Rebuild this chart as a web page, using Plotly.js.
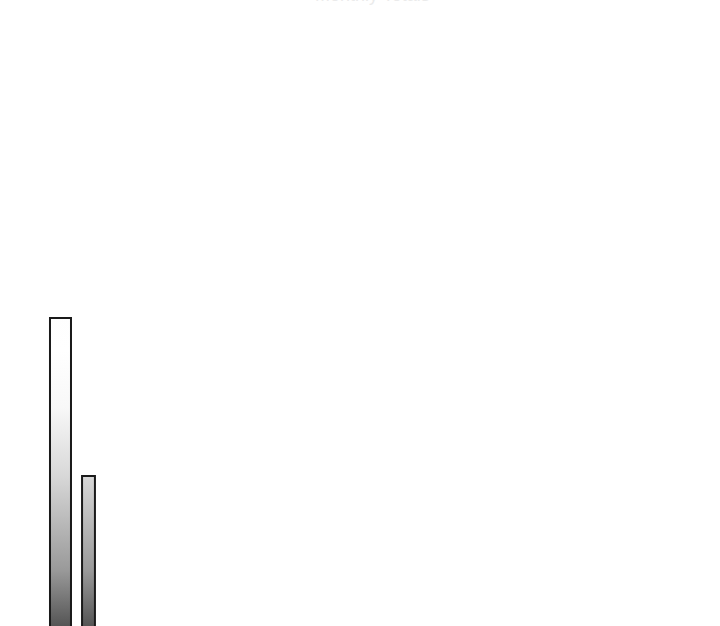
<!DOCTYPE html>
<html>
<head>
<meta charset="utf-8">
<script src="https://cdn.plot.ly/plotly-3.0.1.min.js"></script>
<style>
  html, body { margin: 0; padding: 0; background: #ffffff; overflow: hidden; }
  #chart { width: 720px; height: 626px; }
</style>
</head>
<body>
<div id="chart"></div>
<script>
// Data
const categories = ["A", "B"];
const values = [104.4, 53.9];
const barWidths = [0.75, 0.46];
const titleText = "Monthly Totals";

const trace = {
  type: "bar",
  x: categories,
  y: values,
  width: barWidths,
  marker: {
    color: "#bbbbbb",
    line: { color: "#1a1a1a", width: 2 }
  },
  hoverinfo: "none"
};

const layout = {
  width: 720,
  height: 626,
  margin: { l: 0, r: 0, t: 0, b: 0 },
  paper_bgcolor: "#ffffff",
  plot_bgcolor: "#ffffff",
  showlegend: false,
  xaxis: {
    type: "category",
    range: [-2.16, 23.55],
    showgrid: false, zeroline: false, showline: false,
    showticklabels: false, ticks: ""
  },
  yaxis: {
    range: [6, 206],
    showgrid: false, zeroline: false, showline: false,
    showticklabels: false, ticks: ""
  },
  annotations: [{
    text: titleText,
    xref: "paper", yref: "paper",
    x: 0.518, y: 1,
    xanchor: "center", yanchor: "bottom",
    yshift: -7,
    showarrow: false,
    font: { family: "Liberation Sans, Arial, sans-serif", size: 18, color: "#ebebeb" }
  }]
};

Plotly.newPlot("chart", [trace], layout, { staticPlot: true }).then(function (gd) {
  // vertical gradient shared across the plot (absolute in y)
  const svg = gd.querySelector("svg.main-svg");
  const ns = "http://www.w3.org/2000/svg";
  let defs = svg.querySelector("defs");
  if (!defs) { defs = document.createElementNS(ns, "defs"); svg.insertBefore(defs, svg.firstChild); }
  const grad = document.createElementNS(ns, "linearGradient");
  grad.setAttribute("id", "barGrad");
  grad.setAttribute("gradientUnits", "userSpaceOnUse");
  grad.setAttribute("x1", "0"); grad.setAttribute("x2", "0");
  grad.setAttribute("y1", "0"); grad.setAttribute("y2", String(layout.height));
  const stops = [
    [0.0, "#f6f6f6"],
    [0.56, "#ffffff"],
    [0.65, "#f8f8f8"],
    [0.76, "#d8d8d8"],
    [0.91, "#9a9a9a"],
    [1.0, "#555555"]
  ];
  stops.forEach(function (s) {
    const st = document.createElementNS(ns, "stop");
    st.setAttribute("offset", String(s[0]));
    st.setAttribute("stop-color", s[1]);
    grad.appendChild(st);
  });
  defs.appendChild(grad);
  gd.querySelectorAll(".trace.bars .point path").forEach(function (p) {
    p.style.fill = "url(#barGrad)";
    p.style.fillOpacity = "1";
  });
});
</script>
</body>
</html>
